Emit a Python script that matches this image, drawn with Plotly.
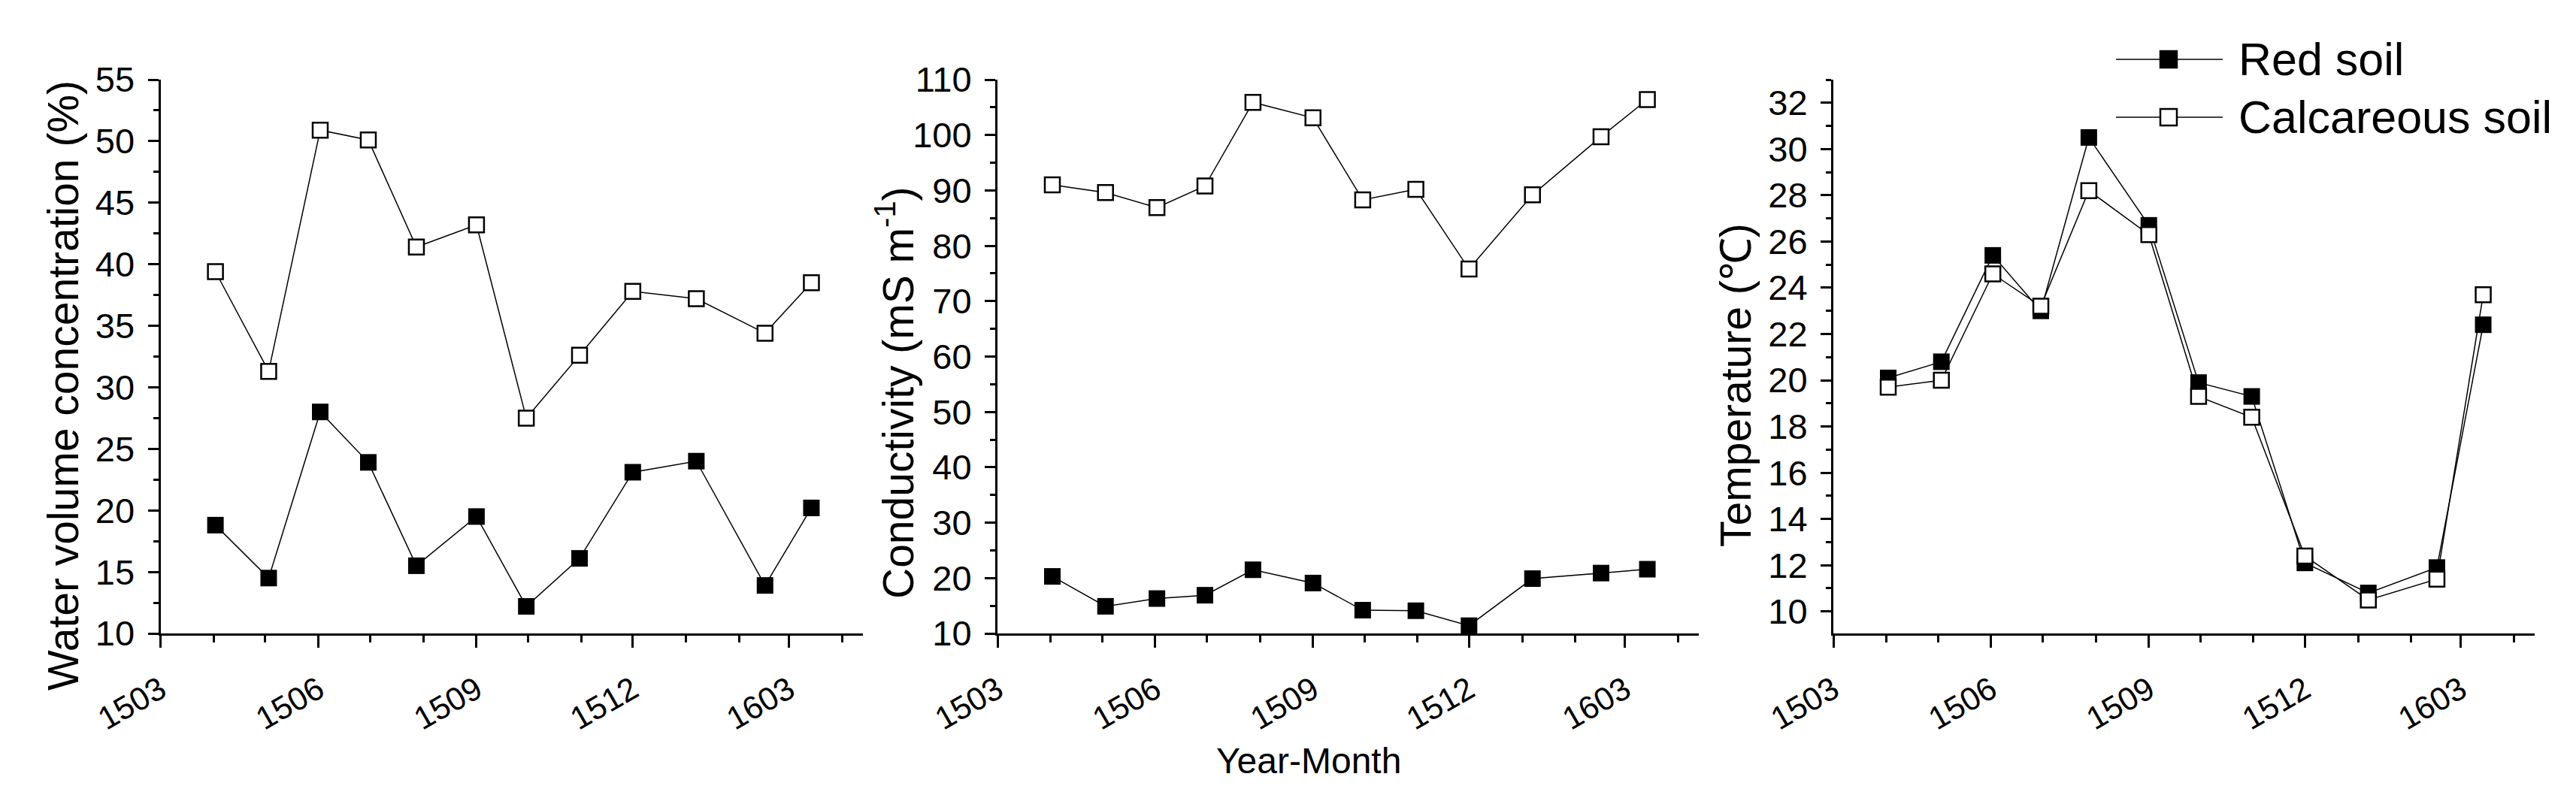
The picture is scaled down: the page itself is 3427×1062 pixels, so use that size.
import plotly.graph_objects as go

W, H = 3427, 1062
FONT = "Liberation Sans, Arial, sans-serif"

# sampling dates (x axis shows yymm)
dates = ["2015-04-02", "2015-05-03", "2015-06-02", "2015-06-30", "2015-07-28", "2015-09-01",
         "2015-09-30", "2015-10-31", "2015-12-01", "2016-01-07", "2016-02-16", "2016-03-14"]

red_water = [18.8, 14.5, 28.0, 23.9, 15.5, 19.5, 12.2, 16.1, 23.1, 24.0, 13.9, 20.2]
calc_water = [39.4, 31.3, 50.9, 50.1, 41.4, 43.2, 27.5, 32.6, 37.8, 37.2, 34.4, 38.5]

red_cond = [20.3, 14.9, 16.3, 16.9, 21.5, 19.1, 14.2, 14.1, 11.4, 19.9, 20.9, 21.6]
calc_cond = [91.0, 89.6, 86.9, 90.8, 105.9, 103.1, 88.3, 90.2, 75.8, 89.2, 99.7, 106.4]

red_temp = [20.1, 20.8, 25.4, 23.0, 30.5, 26.7, 19.9, 19.3, 12.1, 10.8, 11.9, 22.4]
calc_temp = [19.7, 20.0, 24.6, 23.2, 28.2, 26.3, 19.3, 18.4, 12.4, 10.5, 11.4, 23.7]

y_titles = ["Water volume concentration (%)",
            "Conductivity (mS m<sup>-1</sup>)",
            "Temperature (\u2103)"]
legend_names = ["Red soil", "Calcareous soil"]


def px(x):
    return x / W


def py(y):
    return 1 - y / H


fig = go.Figure()

panels = [(red_water, calc_water), (red_cond, calc_cond), (red_temp, calc_temp)]
for i, (red, calc) in enumerate(panels):
    xa = "x" if i == 0 else f"x{i + 1}"
    ya = "y" if i == 0 else f"y{i + 1}"
    fig.add_trace(go.Scatter(
        x=dates, y=red, xaxis=xa, yaxis=ya, mode="lines+markers", name=legend_names[0],
        line=dict(color="black", width=1.5),
        marker=dict(symbol="square", size=22, color="black", line=dict(width=0)),
        showlegend=False))
    fig.add_trace(go.Scatter(
        x=dates, y=calc, xaxis=xa, yaxis=ya, mode="lines+markers", name=legend_names[1],
        line=dict(color="black", width=1.5),
        marker=dict(symbol="square", size=20, color="white", line=dict(width=2.5, color="black")),
        showlegend=False))

x_domains = [(205.5, 1140), (1319, 2252), (2431, 3364)]
y_ranges = [(10, 55, 5, 2.5), (10, 110, 10, 5), (9.05, 33, 2, 1)]

xaxis_common = dict(
    type="date", range=["2015-03-01", "2016-04-13"],
    tick0="2015-03-01", dtick="M3", tickformat="%y%m",
    ticks="outside", ticklen=16, tickwidth=2.5, tickcolor="black",
    tickangle=-30, tickfont=dict(family=FONT, size=43, color="black"),
    showline=True, linewidth=3, linecolor="black", showgrid=False, zeroline=False,
    minor=dict(tick0="2015-03-01", dtick="M1", ticks="outside", ticklen=9,
               tickwidth=2.5, tickcolor="black", showgrid=False),
    automargin=False, ticklabelstandoff=14,
)

layout = dict(
    width=W, height=H, autosize=False,
    margin=dict(l=0, r=0, t=0, b=0),
    paper_bgcolor="white", plot_bgcolor="white",
    font=dict(family=FONT, color="black"),
    showlegend=False,
)

for i in range(3):
    xk = "xaxis" if i == 0 else f"xaxis{i + 1}"
    yk = "yaxis" if i == 0 else f"yaxis{i + 1}"
    ya = "y" if i == 0 else f"y{i + 1}"
    xa = "x" if i == 0 else f"x{i + 1}"
    lo, hi, dt, mdt = y_ranges[i]
    xd = dict(xaxis_common)
    xd["domain"] = [px(x_domains[i][0]), px(x_domains[i][1])]
    xd["anchor"] = ya
    layout[xk] = xd
    layout[yk] = dict(
        domain=[py(835), py(98)], anchor=xa, range=[lo, hi],
        tick0=0, dtick=dt, ticks="outside", ticklen=14, tickwidth=2.5, tickcolor="black",
        tickfont=dict(family=FONT, size=47, color="black"),
        showline=True, linewidth=3, linecolor="black", showgrid=False, zeroline=False,
        minor=dict(tick0=0, dtick=mdt, ticks="outside", ticklen=7, tickwidth=2.5,
                   tickcolor="black", showgrid=False),
        automargin=False, ticklabelstandoff=8,
    )

fig.update_layout(**layout)

# y axis titles
title_pos = [(76, 505), (1183, 515), (2301, 505)]
for (tx, ty), t in zip(title_pos, y_titles):
    fig.add_annotation(x=px(tx), y=py(ty), xref="paper", yref="paper", text=t,
                       textangle=-90, showarrow=False, xanchor="center", yanchor="middle",
                       font=dict(family=FONT, size=57, color="black"))

fig.add_annotation(x=px(1733), y=py(1004), xref="paper", yref="paper", text="Year-Month",
                   showarrow=False, xanchor="center", yanchor="middle",
                   font=dict(family=FONT, size=48, color="black"))

# legend drawn by hand so the sample line can be long
leg_rows = [(71, "black"), (148, "white")]
for (ly, fill), name in zip(leg_rows, legend_names):
    fig.add_shape(type="line", xref="paper", yref="paper",
                  x0=px(2807), x1=px(2949), y0=py(ly), y1=py(ly),
                  line=dict(color="black", width=1.5))
    fig.add_shape(type="rect", xref="paper", yref="paper",
                  x0=px(2866), x1=px(2888), y0=py(ly + 11), y1=py(ly - 11),
                  fillcolor=fill, line=dict(color="black", width=2.5))
    fig.add_annotation(x=px(2968), y=py(ly), xref="paper", yref="paper", text=name,
                       showarrow=False, xanchor="left", yanchor="middle",
                       font=dict(family=FONT, size=61, color="black"))

fig.write_html("out.html")
